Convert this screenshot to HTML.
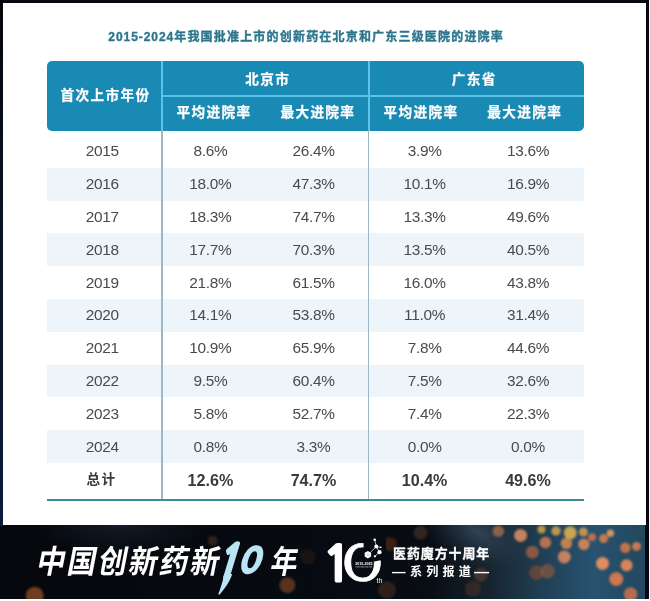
<!DOCTYPE html>
<html lang="zh-CN"><head><meta charset="utf-8"><title>创新药进院率</title>
<style>
html,body{margin:0;padding:0}
body{width:650px;height:601px;overflow:hidden;background:#fff;position:relative;
font-family:"Liberation Sans","Noto Sans CJK SC",sans-serif;color:#4a4a4a}
#frame{position:absolute;left:0;top:0;width:649px;height:599px;background:#060911;overflow:hidden}
#card{position:absolute;left:3px;top:3px;width:643px;height:522px;background:#fff}
#title{position:absolute;left:108.3px;top:27px;letter-spacing:1.19px;font-size:12px;font-weight:bold;color:#2b768d;-webkit-text-stroke:0.35px #2b768d;white-space:nowrap;line-height:20px}
#tnum{letter-spacing:0.95px}
#thead{position:absolute;left:47px;top:61px;width:536.5px;height:69.5px;background:#198ab4;border-radius:5px}
#thead .h{position:absolute;color:#fff;font-weight:bold;font-size:13.6px;letter-spacing:1.4px;margin-left:0.7px;-webkit-text-stroke:0.25px #fff;white-space:nowrap;transform:translate(-50%,-50%);line-height:20px}
#thead .vl{position:absolute;top:0;width:2px;height:69.5px;background:#5cc4ea}
#thead .hl{position:absolute;left:115px;right:0;top:34px;height:2px;background:#5cc4ea}
.row{position:absolute;left:47px;width:536.5px;height:32.8px;font-size:15.4px;letter-spacing:-0.3px}
.row.alt{background:#edf5fb}
.row span{position:absolute;top:0.4px;width:80px;text-align:center;line-height:32.8px;white-space:nowrap}
.row.tot{font-weight:bold;color:#3a3a3a;font-size:16.1px;letter-spacing:0}
.row.tot span{top:1.2px}
.row.tot span:first-child{font-size:13.6px;letter-spacing:1.45px;margin-left:-0.6px;top:1.1px}
.vline{position:absolute;top:130px;width:1.8px;height:369px;background:#9bb9c5}
#bline{position:absolute;left:47px;top:498.5px;width:536.5px;height:2px;background:#3d8d94}
#bt{position:absolute;left:33.2px;top:540px;color:#fff;font-size:32px;font-weight:700;letter-spacing:2.2px;white-space:nowrap;transform:skewX(-11deg) scaleX(0.9);transform-origin:left bottom;line-height:44px}
#nian{position:absolute;left:266.6px;top:540px;color:#fff;font-size:32px;font-weight:700;transform:skewX(-11deg) scaleX(0.84);transform-origin:left bottom;line-height:44px}
#b1,#b0{position:absolute;color:#b9e5f4;line-height:1;white-space:nowrap;transform-origin:left bottom;font-family:"WenQuanYi Zen Hei","Liberation Sans",sans-serif}
#b1{left:211.5px;top:539px;font-size:46px;font-family:"NanumGothic","Liberation Sans",sans-serif;font-weight:bold;transform:skewX(-17deg) scaleX(0.8);-webkit-text-stroke:3.2px #b9e5f4}
#b0{left:236.8px;top:542.2px;font-size:36px;transform:skewX(-17deg) scaleX(0.9);-webkit-text-stroke:3.6px #b9e5f4}
#l1,#l0{position:absolute;color:#fff;line-height:1;white-space:nowrap;transform-origin:left bottom;font-family:"WenQuanYi Zen Hei","Liberation Sans",sans-serif}
#l1{left:322.3px;top:538.5px;font-size:49.5px;font-family:"NanumGothic","Liberation Sans",sans-serif;font-weight:bold;-webkit-text-stroke:2px #fff}
#l0{left:342.2px;top:535.6px;font-size:54px;transform:scaleX(1.27);-webkit-text-stroke:0.6px #fff}
#lg1{position:absolute;left:393px;top:543.7px;color:#fff;font-size:12.9px;letter-spacing:1.0px;-webkit-text-stroke:0.3px #fff;font-weight:bold;white-space:nowrap;line-height:20px}
#lg2{position:absolute;left:392.4px;top:561.5px;color:#fff;font-size:12.1px;font-weight:bold;white-space:nowrap;line-height:20px;letter-spacing:4.1px}
#lg2 i{font-style:normal;display:inline-block;transform:scaleX(1.12);}
</style></head><body>
<div id="frame">
<svg id="bg" width="649" height="75" viewBox="0 0 649 75" style="position:absolute;left:0;top:524px">
<defs>
<linearGradient id="g1" x1="0" x2="1" y1="0" y2="0">
<stop offset="0" stop-color="#05070c"/><stop offset="0.66" stop-color="#080c13"/><stop offset="0.76" stop-color="#17242f"/><stop offset="0.84" stop-color="#213f55"/><stop offset="0.92" stop-color="#285270"/><stop offset="1" stop-color="#23485f"/>
</linearGradient>
<radialGradient id="g2" gradientUnits="userSpaceOnUse" cx="478" cy="8" r="70" gradientTransform="translate(478 8) rotate(28) scale(1 0.5) translate(-478 -8)">
<stop offset="0" stop-color="#3a5064" stop-opacity="0.75"/><stop offset="0.5" stop-color="#2a3e50" stop-opacity="0.4"/><stop offset="1" stop-color="#1a2a38" stop-opacity="0"/>
</radialGradient>
<radialGradient id="g3" gradientUnits="userSpaceOnUse" cx="120" cy="0" r="90" gradientTransform="translate(120 0) scale(1 0.35) translate(-120 0)">
<stop offset="0" stop-color="#1a2838" stop-opacity="0.6"/><stop offset="1" stop-color="#1a2838" stop-opacity="0"/>
</radialGradient>
<filter id="bl"><feGaussianBlur stdDeviation="1.0"/></filter>
</defs>
<rect width="645" height="75" fill="url(#g1)"/>
<rect width="645" height="75" fill="url(#g2)"/>
<rect width="645" height="75" fill="url(#g3)"/>
<g filter="url(#bl)">
<circle cx="498.3" cy="7.2" r="5.8" fill="#a86a4a" opacity="0.8"/>
<circle cx="520.6" cy="11.4" r="6.5" fill="#d88a60" opacity="0.9"/>
<circle cx="541.5" cy="5.4" r="4" fill="#c8a040" opacity="0.9"/>
<circle cx="556" cy="7" r="4.7" fill="#d0a050" opacity="0.9"/>
<circle cx="570.3" cy="8.8" r="6.5" fill="#d8b050" opacity="0.9"/>
<circle cx="583.4" cy="8" r="4.5" fill="#d09a50" opacity="0.9"/>
<circle cx="592" cy="13.3" r="4" fill="#d07050" opacity="0.9"/>
<circle cx="603.6" cy="14.6" r="4.5" fill="#d88050" opacity="0.9"/>
<circle cx="610.4" cy="9.3" r="3.7" fill="#e0a060" opacity="0.9"/>
<circle cx="545.4" cy="18.5" r="5.8" fill="#c87850" opacity="0.9"/>
<circle cx="566.4" cy="19.3" r="5.8" fill="#d08850" opacity="0.9"/>
<circle cx="583.9" cy="20.3" r="5.8" fill="#d88858" opacity="0.9"/>
<circle cx="532.4" cy="28.2" r="6.5" fill="#a06048" opacity="0.8"/>
<circle cx="564.3" cy="32.9" r="6.5" fill="#d08860" opacity="0.9"/>
<circle cx="625.3" cy="23.7" r="5.2" fill="#d07848" opacity="0.9"/>
<circle cx="636.5" cy="22.4" r="4.5" fill="#d88050" opacity="0.9"/>
<circle cx="602.5" cy="39.4" r="6.5" fill="#e89060" opacity="0.95"/>
<circle cx="626.6" cy="41.3" r="6" fill="#e08858" opacity="0.95"/>
<circle cx="536.3" cy="48.6" r="7.3" fill="#7a4838" opacity="0.7"/>
<circle cx="547.5" cy="47.3" r="7.3" fill="#8a5840" opacity="0.7"/>
<circle cx="616.2" cy="55.1" r="7" fill="#d87850" opacity="0.95"/>
<circle cx="630.6" cy="70" r="6.8" fill="#c87050" opacity="0.9"/>
<circle cx="34.7" cy="71.7" r="9" fill="#8a4a28" opacity="0.8"/>
<circle cx="287.4" cy="61.2" r="8" fill="#7a4428" opacity="0.7"/>
<circle cx="212.8" cy="16.7" r="5" fill="#5a3a28" opacity="0.5"/>
<circle cx="390" cy="20" r="7" fill="#6a3418" opacity="0.5"/>
<circle cx="420.5" cy="8.8" r="7" fill="#7a5238" opacity="0.35"/>
<circle cx="307.7" cy="33" r="8" fill="#6a3a20" opacity="0.18"/>
<circle cx="387" cy="66" r="9" fill="#6a4028" opacity="0.4"/>
<circle cx="480.8" cy="50.8" r="7" fill="#7a4a30" opacity="0.45"/>
<circle cx="473" cy="64.8" r="8" fill="#6a4028" opacity="0.35"/>
</g>
</svg>
<div style="position:absolute;left:0;top:0;width:3px;height:526px;background:linear-gradient(#04060b,#0a1224 40%,#0c1a3c)"></div>
<div id="card"></div>
<div id="title"><span id="tnum">2015-2024</span>年我国批准上市的创新药在北京和广东三级医院的进院率</div>
<div id="thead">
<div class="vl" style="left:114px"></div><div class="vl" style="left:320.5px"></div><div class="hl"></div>
<div class="h" style="left:57.8px;top:34.5px">首次上市年份</div>
<div class="h" style="left:220px;top:18.5px">北京市</div>
<div class="h" style="left:426.5px;top:18.5px">广东省</div>
<div class="h" style="left:166.3px;top:52.2px">平均进院率</div>
<div class="h" style="left:270.2px;top:52.2px">最大进院率</div>
<div class="h" style="left:373.4px;top:52.2px">平均进院率</div>
<div class="h" style="left:477px;top:52.2px">最大进院率</div>
</div>
<div class="row" style="top:135.00px">
<span style="left:15.2px">2015</span>
<span style="left:123.4px">8.6%</span>
<span style="left:226.5px">26.4%</span>
<span style="left:337.6px">3.9%</span>
<span style="left:441.0px">13.6%</span>
</div>
<div class="row alt" style="top:167.80px">
<span style="left:15.2px">2016</span>
<span style="left:123.4px">18.0%</span>
<span style="left:226.5px">47.3%</span>
<span style="left:337.6px">10.1%</span>
<span style="left:441.0px">16.9%</span>
</div>
<div class="row" style="top:200.60px">
<span style="left:15.2px">2017</span>
<span style="left:123.4px">18.3%</span>
<span style="left:226.5px">74.7%</span>
<span style="left:337.6px">13.3%</span>
<span style="left:441.0px">49.6%</span>
</div>
<div class="row alt" style="top:233.40px">
<span style="left:15.2px">2018</span>
<span style="left:123.4px">17.7%</span>
<span style="left:226.5px">70.3%</span>
<span style="left:337.6px">13.5%</span>
<span style="left:441.0px">40.5%</span>
</div>
<div class="row" style="top:266.20px">
<span style="left:15.2px">2019</span>
<span style="left:123.4px">21.8%</span>
<span style="left:226.5px">61.5%</span>
<span style="left:337.6px">16.0%</span>
<span style="left:441.0px">43.8%</span>
</div>
<div class="row alt" style="top:299.00px">
<span style="left:15.2px">2020</span>
<span style="left:123.4px">14.1%</span>
<span style="left:226.5px">53.8%</span>
<span style="left:337.6px">11.0%</span>
<span style="left:441.0px">31.4%</span>
</div>
<div class="row" style="top:331.80px">
<span style="left:15.2px">2021</span>
<span style="left:123.4px">10.9%</span>
<span style="left:226.5px">65.9%</span>
<span style="left:337.6px">7.8%</span>
<span style="left:441.0px">44.6%</span>
</div>
<div class="row alt" style="top:364.60px">
<span style="left:15.2px">2022</span>
<span style="left:123.4px">9.5%</span>
<span style="left:226.5px">60.4%</span>
<span style="left:337.6px">7.5%</span>
<span style="left:441.0px">32.6%</span>
</div>
<div class="row" style="top:397.40px">
<span style="left:15.2px">2023</span>
<span style="left:123.4px">5.8%</span>
<span style="left:226.5px">52.7%</span>
<span style="left:337.6px">7.4%</span>
<span style="left:441.0px">22.3%</span>
</div>
<div class="row alt" style="top:430.20px">
<span style="left:15.2px">2024</span>
<span style="left:123.4px">0.8%</span>
<span style="left:226.5px">3.3%</span>
<span style="left:337.6px">0.0%</span>
<span style="left:441.0px">0.0%</span>
</div>
<div class="row tot" style="top:463.00px">
<span style="left:15.2px">总计</span>
<span style="left:123.4px">12.6%</span>
<span style="left:226.5px">74.7%</span>
<span style="left:337.6px">10.4%</span>
<span style="left:441.0px">49.6%</span>
</div>
<div class="vline" style="left:161.1px"></div>
<div class="vline" style="left:367.6px"></div>
<div id="bline"></div>
<div id="bt">中国创新药新</div>
<div id="nian">年</div>
<svg width="70" height="65" viewBox="0 0 70 65" style="position:absolute;left:205px;top:535px">
<path d="M19.3 39 L27.2 39 C25.5 45 21 52.5 14.4 59.8 L13.3 59.2 C16 52 18 45.5 19.3 39 Z" fill="#b9e5f4"/>
</svg>
<div id="b1">1</div><div id="b0">0</div>
<div id="l1">1</div><div id="l0">0</div>
<svg width="70" height="65" viewBox="0 0 70 65" style="position:absolute;left:320px;top:535px">
<path d="M43.6 28.6 L43.6 4 L66 4 L66 24.2 Z" fill="#070a11"/>
<path d="M50.5 17.2 L56.3 11.6 M56.3 11.6 L54.7 4.8 M56.3 11.6 L59.5 17.2 M59.5 17.2 L54.9 21.3 M56.3 11.6 L60.8 12.4" stroke="#fff" stroke-width="0.7" fill="none"/>
<path d="M47.90 16.00 L51.10 17.85 L51.10 21.55 L47.90 23.40 L44.70 21.55 L44.70 17.85 Z" fill="#fbfbfb"/>
<path d="M46.6 19.7 H49.2 M47.9 18.4 V21" stroke="#b5b5b5" stroke-width="0.5"/>
<circle cx="56.3" cy="11.6" r="2" fill="#fff"/>
<circle cx="54.7" cy="4.8" r="1.3" fill="#fff"/>
<circle cx="59.5" cy="17.2" r="2.1" fill="#fff"/>
<circle cx="54.9" cy="21.3" r="1.1" fill="#fff"/>
<circle cx="60.8" cy="12.4" r="0.8" fill="#fff"/>
<text x="43.8" y="30" font-size="3.6" fill="#fff" text-anchor="middle" font-family="Liberation Sans, sans-serif" font-weight="bold">2015-2025</text>
<path d="M35.6 31.9 H52" stroke="#ddd" stroke-width="0.9" stroke-dasharray="0.8 0.5" fill="none"/>
<text x="56.5" y="48.2" font-size="6.8" fill="#fff" font-family="Liberation Sans, sans-serif">th</text>
</svg>
<div id="lg1">医药魔方十周年</div>
<div id="lg2"><i style="transform-origin:left center;margin-right:1.5px">—</i>系列报道<i style="transform-origin:left center;letter-spacing:0;margin-left:-0.9px;transform:scaleX(1.25)">—</i></div>
</div>
</body></html>
